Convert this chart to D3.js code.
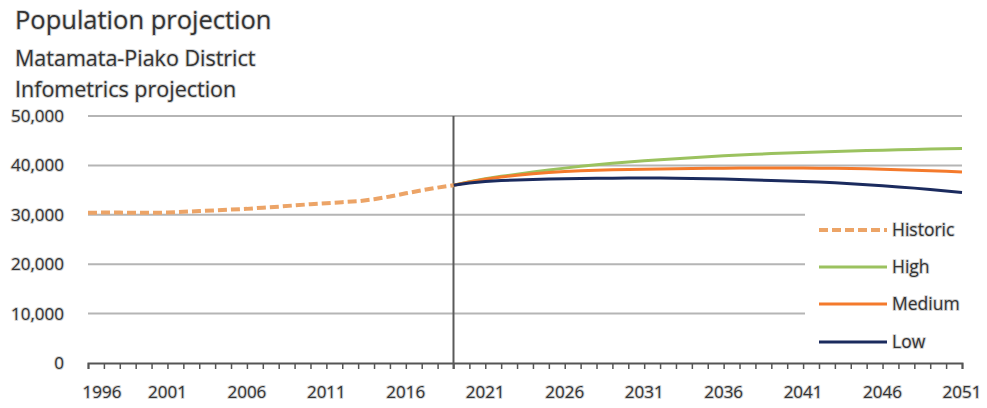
<!DOCTYPE html>
<html>
<head>
<meta charset="utf-8">
<script src="https://cdn.jsdelivr.net/npm/d3@7"></script>
<style>
  html, body { margin: 0; padding: 0; background: #fff; }
  svg { display: block; font-family: "Open Sans", "Noto Sans", sans-serif; }
  .lbl { paint-order: stroke; stroke: #d4d4d4; stroke-width: 2px; stroke-linejoin: round; }
</style>
</head>
<body>
<svg id="chart" width="987" height="408"></svg>
<script>
// Population of Matamata-Piako District, historic estimates and projection scenarios
const historicYears = d3.range(1996, 2020);
const historicValues = [30400, 30450, 30450, 30400, 30400, 30450, 30600, 30750, 30900, 31050,
  31200, 31450, 31650, 31900, 32150, 32350, 32550, 32750, 33150, 33700, 34350, 34950, 35500, 36000];

const projectionYears = d3.range(2019, 2052);
const highValues = [36000, 36700, 37300, 37800, 38200, 38650, 39050, 39450, 39850, 40150, 40450,
  40700, 40950, 41150, 41350, 41550, 41750, 41950, 42100, 42250, 42400, 42500, 42600, 42700,
  42800, 42900, 43000, 43050, 43150, 43200, 43300, 43350, 43400];
const mediumValues = [36000, 36650, 37200, 37650, 38000, 38300, 38550, 38750, 38900, 39000, 39100,
  39150, 39200, 39250, 39300, 39350, 39400, 39400, 39450, 39450, 39450, 39450, 39450, 39400,
  39400, 39350, 39300, 39200, 39100, 39000, 38900, 38800, 38650];
const lowValues = [36000, 36450, 36750, 36950, 37050, 37150, 37250, 37300, 37350, 37400, 37400,
  37450, 37450, 37450, 37400, 37350, 37300, 37250, 37150, 37050, 36950, 36850, 36750, 36650,
  36500, 36300, 36100, 35900, 35650, 35400, 35100, 34800, 34500];

const yTicks = [0, 10000, 20000, 30000, 40000, 50000];
const xLabelYears = [1996, 2001, 2006, 2011, 2016, 2021, 2026, 2031, 2036, 2041, 2046, 2051];
const projectionStart = 2019;

const seriesNames = ["Historic", "High", "Medium", "Low"];
const seriesColors = ["#eca467", "#9bc25f", "#f47a2c", "#1b2b5e"];

const svg = d3.select("#chart");
const textColor = "#333";

const x = d3.scaleLinear().domain([1996, 2051]).range([88, 962]);
const y = d3.scaleLinear().domain([0, 50000]).range([363, 116]);

// Titles
svg.append("text").attr("class", "lbl").attr("x", 15).attr("y", 29).attr("fill", textColor)
  .style("font-size", "25.5px").text("Population projection");
svg.append("text").attr("class", "lbl").attr("x", 15).attr("y", 66).attr("fill", textColor)
  .style("font-size", "21.5px").text("Matamata-Piako District");
svg.append("text").attr("class", "lbl").attr("x", 15).attr("y", 97).attr("fill", textColor)
  .style("font-size", "21.5px").text("Infometrics projection");

// Horizontal gridlines; the lower ones stop short of the legend
const grid = svg.append("g");
grid.selectAll("line").data(yTicks.filter(d => d > 0)).join("line")
  .attr("x1", x(1996))
  .attr("x2", d => d >= 40000 ? x(2051) : 805)
  .attr("y1", d => y(d)).attr("y2", d => y(d))
  .attr("stroke", "#b5b5b5").attr("stroke-width", 2);

// Y axis labels
const yAxis = d3.axisLeft(y).tickValues(yTicks).tickSize(0).tickPadding(0)
  .tickFormat(d3.format(","));
svg.append("g").attr("transform", "translate(64,0)").call(yAxis)
  .call(g => g.select(".domain").remove())
  .call(g => g.selectAll("text").attr("class", "lbl").attr("fill", textColor)
    .style("font-size", "17px").style("font-family", "\"Open Sans\", sans-serif"));

// X axis with yearly ticks
const xAxis = d3.axisBottom(x).tickValues(d3.range(1996, 2052)).tickSize(6)
  .tickSizeOuter(6).tickFormat("");
svg.append("g").attr("transform", `translate(0,${y(0)})`).call(xAxis)
  .call(g => g.select(".domain").attr("stroke", "#555").attr("stroke-width", 2))
  .call(g => g.selectAll(".tick line").attr("stroke", "#555").attr("stroke-width", 1.5));

svg.append("g").selectAll("text").data(xLabelYears).join("text")
  .attr("class", "lbl")
  .attr("x", d => d === 1996 ? x(d) + 14 : x(d))
  .attr("y", 398)
  .attr("text-anchor", "middle")
  .attr("fill", textColor)
  .style("font-size", "17px")
  .text(d => d);

// Divider between historic and projected years
svg.append("line")
  .attr("x1", x(projectionStart)).attr("x2", x(projectionStart))
  .attr("y1", y(50000)).attr("y2", y(0) + 6)
  .attr("stroke", "#5a5a5a").attr("stroke-width", 2);

// Series
const line = d3.line().x(d => x(d[0])).y(d => y(d[1]));
const historic = historicYears.map((yr, i) => [yr, historicValues[i]]);
const proj = vals => projectionYears.map((yr, i) => [yr, vals[i]]);

const series = [
  { data: historic, dash: "9,4", width: 4 },
  { data: proj(highValues), dash: null, width: 3 },
  { data: proj(mediumValues), dash: null, width: 3 },
  { data: proj(lowValues), dash: null, width: 3 }
];
// Draw High, Medium then Low on top; Historic last
[1, 2, 3, 0].forEach(i => {
  const s = series[i];
  svg.append("path").datum(s.data)
    .attr("d", line)
    .attr("fill", "none")
    .attr("stroke", seriesColors[i])
    .attr("stroke-width", s.width)
    .attr("stroke-dasharray", s.dash)
    .attr("stroke-linejoin", "round");
});

// Legend
const legend = svg.append("g");
const legendY = [230, 267, 304, 342];
seriesNames.forEach((name, i) => {
  legend.append("line")
    .attr("x1", 819).attr("x2", 887)
    .attr("y1", legendY[i]).attr("y2", legendY[i])
    .attr("stroke", seriesColors[i])
    .attr("stroke-width", i === 0 ? 4 : 3)
    .attr("stroke-dasharray", i === 0 ? "9,4" : null);
  legend.append("text")
    .attr("class", "lbl")
    .attr("x", 892).attr("y", legendY[i] + 6)
    .attr("fill", textColor)
    .style("font-size", "17.5px")
    .text(name);
});
</script>
</body>
</html>
